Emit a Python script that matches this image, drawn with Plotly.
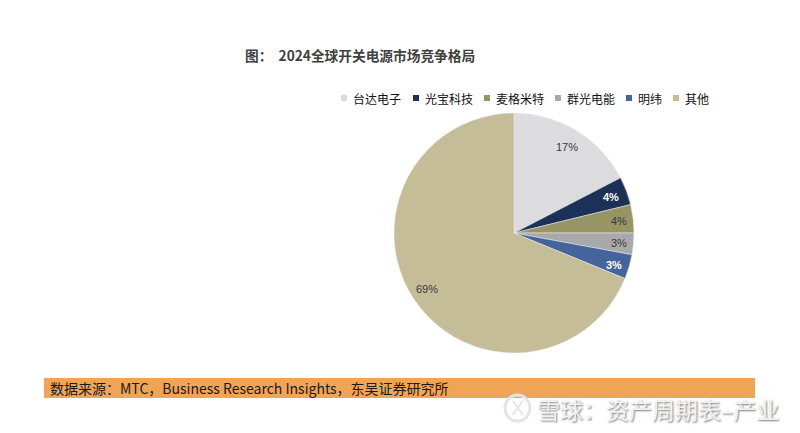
import plotly.graph_objects as go

# market share, 2024 (printed rounded on the slices)
companies = ['台达电子', '光宝科技', '麦格米特', '群光电能', '明纬', '其他']
share = [17.4, 3.8, 3.8, 2.9, 3.3, 68.8]
slice_colors = ['#dcdbde', '#1b3158', '#989464', '#a9a9ab', '#44659b', '#c4bd97']
label_colors = ['#3a3a3a', '#ffffff', '#3a3a3a', '#3a3a3a', '#ffffff', '#3a3a3a']
label_weights = ['normal', 'bold', 'normal', 'normal', 'bold', 'normal']

# page body has an 8px margin, so work in reference pixels and shift
PAGE = 8
W, H = 800 - PAGE, 433 - PAGE
CJK = 'Noto Sans CJK SC'


def px(x):
    return (x - PAGE) / W


def py(y):
    return 1 - (y - PAGE) / H


fig = go.Figure()
fig.add_trace(go.Pie(
    labels=companies,
    values=share,
    sort=False,
    direction='clockwise',
    rotation=0,
    textinfo='none',
    marker=dict(colors=slice_colors, line=dict(color='#eeeeee', width=0.5)),
    domain=dict(x=[px(394), px(634)], y=[py(353), py(113)]),
))

# slice labels sit off-centre in the original, so place them by hand
label_x = [567, 611, 619, 619, 614, 427]
label_y = [147, 197, 221, 243, 265, 289]
for v, c, w, lx, ly in zip(share, label_colors, label_weights, label_x, label_y):
    fig.add_annotation(text=f'{v:.0f}%', xref='paper', yref='paper',
                       x=px(lx), y=py(ly), xanchor='center', yanchor='middle', showarrow=False,
                       font=dict(family='Liberation Sans', size=11, color=c, weight=w))

# source strip under the chart
fig.add_shape(type='rect', xref='paper', yref='paper',
              x0=px(44), x1=px(755), y0=py(398), y1=py(378),
              fillcolor='#f0a556', line_width=0, layer='below')

fig.add_annotation(text='<b>图：  2024全球开关电源市场竞争格局</b>', xref='paper', yref='paper',
                   x=px(243), y=py(55), xanchor='left', yanchor='middle', showarrow=False,
                   font=dict(family=CJK, size=13.7, color='#404040'))
fig.add_annotation(text='数据来源：MTC，Business Research Insights，东吴证券研究所', xref='paper', yref='paper',
                   x=px(48), y=py(388), xanchor='left', yanchor='middle', showarrow=False,
                   font=dict(family=CJK, size=14, color='#1a1a1a'))

# legend by hand, the built-in one is too wide for this spacing
legend_x = [344, 416, 487, 558, 629, 676]
for name, color, lx in zip(companies, slice_colors, legend_x):
    fig.add_shape(type='rect', xref='paper', yref='paper',
                  x0=px(lx - 3), x1=px(lx + 3), y0=py(101), y1=py(95),
                  fillcolor=color, line_width=0)
    fig.add_annotation(text=name, xref='paper', yref='paper',
                       x=px(lx + 7), y=py(98), xanchor='left', yanchor='middle', showarrow=False,
                       font=dict(family=CJK, size=12, color='#111111'))

# watermark
fig.add_annotation(text='雪球：资产周期表–产业', xref='paper', yref='paper',
                   x=px(535), y=py(409), xanchor='left', yanchor='middle', showarrow=False,
                   font=dict(family=CJK, size=23, color='#f2f2f2', shadow='1px 1px 2px #777777'))
fig.add_shape(type='circle', xref='paper', yref='paper',
              x0=px(505), x1=px(530), y0=py(421), y1=py(395),
              line=dict(color='#e4e4e4', width=3))
fig.add_annotation(text='X', xref='paper', yref='paper',
                   x=px(517.5), y=py(408), xanchor='center', yanchor='middle', showarrow=False,
                   font=dict(family='Liberation Sans', size=20, color='#e4e4e4'))

fig.update_layout(
    width=W, height=H,
    margin=dict(l=0, r=0, t=0, b=0),
    paper_bgcolor='white',
    plot_bgcolor='white',
    showlegend=False,
)

fig.write_html('out.html')
